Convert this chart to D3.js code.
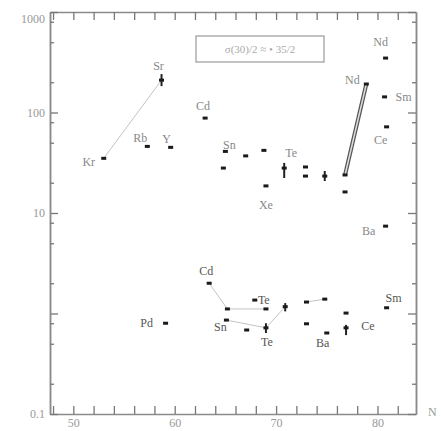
<!DOCTYPE html>
<html>
<head>
<meta charset="utf-8">
<script src="https://cdn.jsdelivr.net/npm/d3@7"></script>
<style>
  body { margin: 0; background: #fff; }
  text { font-family: 'Liberation Serif', 'DejaVu Serif', serif; }
</style>
</head>
<body>
<svg id="chart" width="441" height="431"></svg>
<script>
// nuclide labels ('' = unlabelled point), neutron number, value (log axis)
const names = ['Kr', 'Rb', 'Y', 'Sr', 'Cd', 'Sn', '', '', '', 'Xe', 'Te', '', '', '', '', '', 'Nd', 'Nd', 'Sm', 'Ce', 'Ba',
  'Cd', 'Pd', '', 'Sn', '', 'Te', '', 'Te', '', '', '', '', 'Ba', '', 'Ce', 'Sm']
const nVals = [53.0, 57.3, 59.6, 58.7, 63.0, 65.0, 64.8, 67.0, 68.8, 69.0, 70.8, 72.9, 72.9, 74.8, 76.8, 76.8, 78.9, 80.8, 80.7, 80.9, 80.8,
  63.4, 59.1, 65.2, 65.1, 67.1, 67.9, 69.0, 69.0, 70.9, 73.0, 74.8, 73.0, 75.0, 76.9, 76.9, 80.9]
const sigN = [35, 46, 45, 210, 88, 41, 28, 37, 42, 18.6, 28, 28.7, 23.3, 23.3, 23.9, 16.2, 192, 348, 143, 72, 7.4,
  2.0, 0.8, 1.11, 0.86, 0.685, 1.36, 1.11, 0.72, 1.17, 1.3, 1.39, 0.79, 0.64, 1.01, 0.72, 1.14]
// error bars [index, low, high]
const errBars = [[3, 183, 241], [10, 22.3, 31.5], [13, 20.8, 26.2], [28, 0.64, 0.8], [29, 1.05, 1.27], [35, 0.61, 0.77]]
// connecting lines between points
const links = [[0, 3], [21, 23], [23, 27], [24, 28], [28, 29], [30, 31]]
const thickLinks = [[14, 16]]

const xTicks = d3.range(48, 84, 2)
const xLabels = [50, 60, 70, 80]
const yMajor = [0.1, 1, 10, 100, 1000]
const yLabels = { 0.1: '0.1', 10: '10', 100: '100', 1000: '1000' }
const yMinor = [0.2, 0.5, 0.8, 2, 5, 8, 20, 50, 80, 200, 500, 800]
const legendText = 'σ(30)/2 ≈ • 35/2'

// label offsets from point (layout only)
const labelOff = {
  0: [-15, 3], 1: [-7, -9], 2: [-4, -9], 3: [-3, -14], 4: [-2, -12], 5: [4, -7], 9: [0, 19], 10: [7, -15],
  16: [-14, -4], 17: [-5, -16], 18: [19, 0], 19: [-6, 13], 20: [-17, 5],
  21: [-3, -12], 22: [-19, 0], 24: [-6, 7], 26: [9, 0], 28: [1, 14], 33: [-4, 10], 35: [22, -2], 36: [7, -10]
}

let svg = d3.select('#chart')
let mLeft = 50, mRight = 416, mTop = 12, mBottom = 414

let x = d3.scaleLinear().domain([47.7, 83.8]).range([mLeft, mRight])
let y = d3.scaleLog().domain([0.1, 1000]).range([mBottom, mTop])

let axisColor = '#8a8a8a'

function styleAxis(g) {
  g.select('.domain').attr('stroke', axisColor).attr('stroke-width', 1.5)
  g.selectAll('.tick line').attr('stroke', '#777').attr('stroke-width', 1.3)
  g.selectAll('.tick text').attr('fill', '#999').style('font-size', '12px')
}

// x axes
svg.append('g')
  .attr('transform', `translate(0,${mBottom})`)
  .call(d3.axisBottom(x).tickValues(xTicks).tickSizeInner(-8).tickSizeOuter(0).tickPadding(4)
    .tickFormat((d) => (xLabels.includes(d) ? d : '')))
  .call(styleAxis)

svg.append('g')
  .attr('transform', `translate(0,${mTop})`)
  .call(d3.axisTop(x).tickValues(xTicks).tickSizeInner(-8).tickSizeOuter(0).tickFormat(''))
  .call(styleAxis)

// y axes
svg.append('g')
  .attr('transform', `translate(${mLeft},0)`)
  .call(d3.axisLeft(y).tickValues(yMajor).tickSizeInner(-8).tickSizeOuter(0).tickPadding(5)
    .tickFormat((d) => yLabels[d] || ''))
  .call(styleAxis)
  .call((g) => g.selectAll('.tick text').filter((d) => d == 1000).attr('dy', '0.85em'))

svg.append('g')
  .attr('transform', `translate(${mLeft},0)`)
  .call(d3.axisLeft(y).tickValues(yMinor).tickSizeInner(-4).tickSizeOuter(0).tickFormat(''))
  .call(styleAxis)

svg.append('g')
  .attr('transform', `translate(${mRight},0)`)
  .call(d3.axisRight(y).tickValues(yMajor).tickSizeInner(-8).tickSizeOuter(0).tickFormat(''))
  .call(styleAxis)

svg.append('g')
  .attr('transform', `translate(${mRight},0)`)
  .call(d3.axisRight(y).tickValues(yMinor).tickSizeInner(-4).tickSizeOuter(0).tickFormat(''))
  .call(styleAxis)

// axis title
svg.append('text')
  .attr('x', mRight + 12)
  .attr('y', mBottom + 2)
  .attr('fill', '#999')
  .style('font-size', '12px')
  .text('N')

// legend box
svg.append('rect')
  .attr('x', 196)
  .attr('y', 36)
  .attr('width', 128)
  .attr('height', 26)
  .attr('fill', 'none')
  .attr('stroke', '#999')
  .attr('stroke-width', 1.2)

svg.append('text')
  .attr('x', 260)
  .attr('y', 49)
  .attr('dy', '0.35em')
  .attr('text-anchor', 'middle')
  .attr('fill', '#aaa')
  .style('font-size', '11px')
  .text(legendText)

// connecting lines
svg.selectAll('.link')
  .data(links)
  .enter()
  .append('line')
  .attr('class', 'link')
  .attr('x1', (d) => x(nVals[d[0]]))
  .attr('y1', (d) => y(sigN[d[0]]))
  .attr('x2', (d) => x(nVals[d[1]]))
  .attr('y2', (d) => y(sigN[d[1]]))
  .attr('stroke', '#c4c4c4')
  .attr('stroke-width', 1)

thickLinks.forEach((d) => {
  let x1 = x(nVals[d[0]]), y1 = y(sigN[d[0]]), x2 = x(nVals[d[1]]), y2 = y(sigN[d[1]])
  svg.append('line').attr('x1', x1).attr('y1', y1).attr('x2', x2).attr('y2', y2)
    .attr('stroke', '#555').attr('stroke-width', 4)
  svg.append('line').attr('x1', x1).attr('y1', y1).attr('x2', x2).attr('y2', y2)
    .attr('stroke', '#ddd').attr('stroke-width', 1.5)
})

// error bars
svg.selectAll('.err')
  .data(errBars)
  .enter()
  .append('line')
  .attr('class', 'err')
  .attr('x1', (d) => x(nVals[d[0]]))
  .attr('x2', (d) => x(nVals[d[0]]))
  .attr('y1', (d) => y(d[1]))
  .attr('y2', (d) => y(d[2]))
  .attr('stroke', '#222')
  .attr('stroke-width', 2)

// points
svg.selectAll('.dot')
  .data(nVals)
  .enter()
  .append('rect')
  .attr('class', 'dot')
  .attr('x', (d) => x(d) - 2.5)
  .attr('y', (d, i) => y(sigN[i]) - 1.5)
  .attr('width', 5)
  .attr('height', 3)
  .attr('fill', '#1a1a1a')

// labels
svg.selectAll('.lbl')
  .data(names.map((n, i) => ({ n: n, i: i })).filter((d) => d.n !== ''))
  .enter()
  .append('text')
  .attr('class', 'lbl')
  .attr('x', (d) => x(nVals[d.i]) + labelOff[d.i][0])
  .attr('y', (d) => y(sigN[d.i]) + labelOff[d.i][1])
  .attr('dy', '0.35em')
  .attr('text-anchor', 'middle')
  .attr('fill', (d) => (d.i >= 21 ? '#555' : '#888'))
  .style('font-size', '12px')
  .text((d) => d.n)
</script>
</body>
</html>
